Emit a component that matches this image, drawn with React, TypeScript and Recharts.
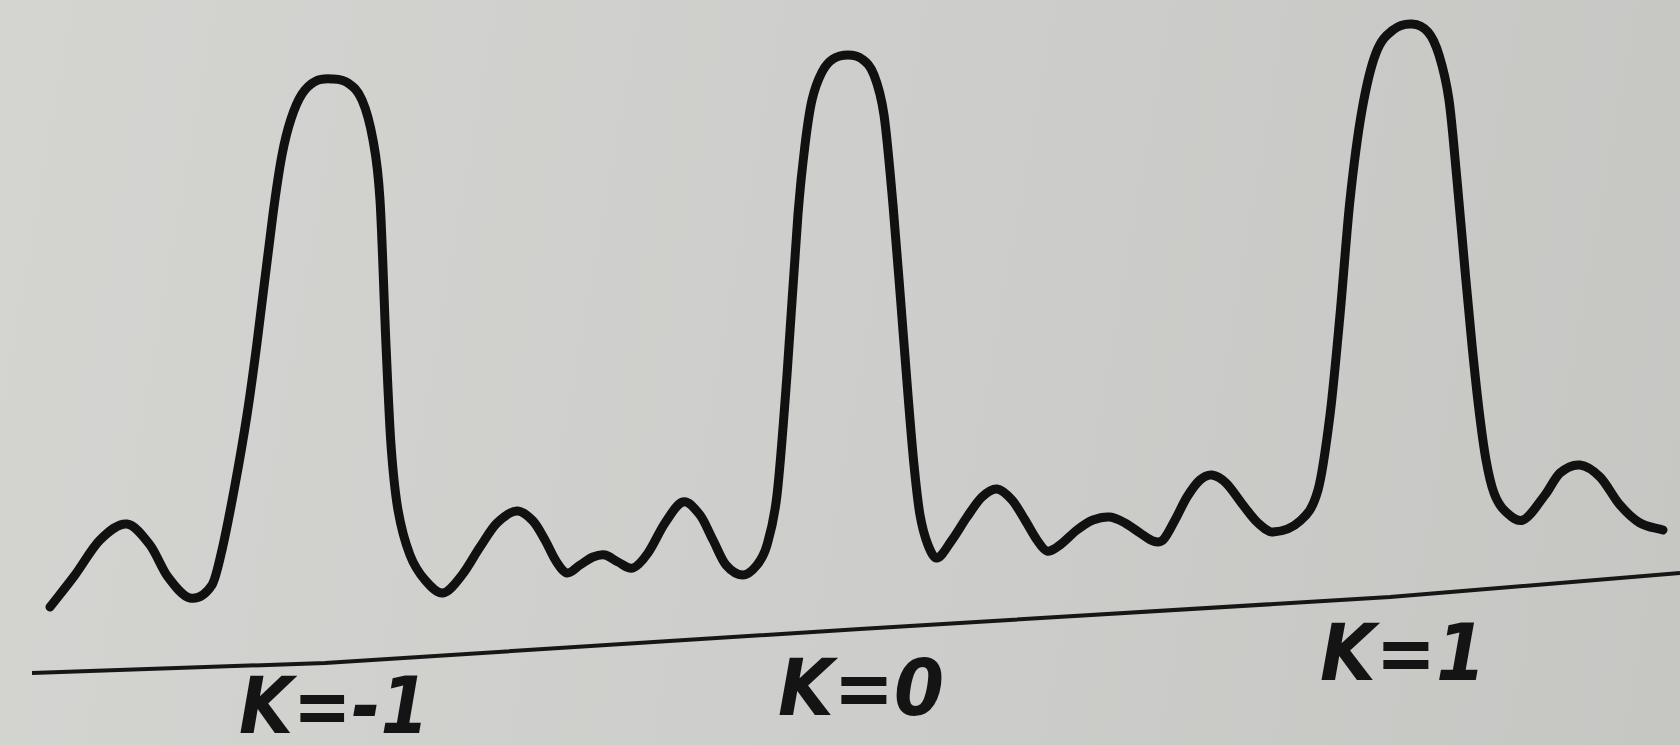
import { Line, LineChart, ReferenceDot, XAxis, YAxis } from "recharts";

// trace of the drawn curve (x along the strip, y height above the bottom edge)
const curveX = [
  50, 75, 100, 127, 150, 168, 190, 212, 222, 235, 247, 257, 273, 282, 291, 302, 316, 332, 348, 362, 373, 380,
  386, 391, 398, 410, 425, 443,
  462, 480, 497, 517, 533, 545, 556, 567, 580, 593, 605, 618, 633, 648, 665, 683, 700, 713, 726, 743,
  757, 767, 777, 787, 798, 805, 812, 822, 833, 848, 862, 874, 884, 893, 901, 908, 914, 920, 928, 937,
  952, 967, 982, 997, 1012, 1025, 1037, 1047, 1060, 1077, 1093, 1110, 1125, 1140, 1153, 1163,
  1175, 1187, 1200, 1212, 1226, 1243, 1258, 1273, 1300,
  1318, 1330, 1340, 1350, 1362, 1376, 1393, 1412, 1428, 1439, 1449, 1457, 1465, 1472, 1479, 1486, 1494, 1505, 1523,
  1545, 1560, 1580, 1600, 1620, 1640, 1663,
];
const curveY = [
  138, 170, 205, 221, 200, 168, 147, 160, 195, 260, 330, 402, 531, 590, 626, 651, 664, 666, 662, 645, 605, 545,
  400, 300, 235, 190, 165, 152,
  170, 198, 222, 234, 224, 205, 184, 172, 180, 188, 190, 183, 177, 192, 222, 243, 230, 205, 180, 170,
  180, 200, 250, 370, 531, 600, 645, 673, 686, 690, 686, 670, 630, 540, 440, 350, 280, 230, 200, 187,
  205, 228, 248, 256, 245, 225, 205, 194, 200, 215, 225, 228, 222, 212, 204, 205,
  225, 248, 265, 270, 262, 240, 222, 213, 224,
  255, 330, 430, 545, 635, 692, 715, 721, 713, 690, 645, 565, 475, 400, 335, 285, 252, 234, 225,
  250, 272, 280, 268, 240, 222, 215,
];

// the slanted base line
const baseX = [32, 325, 860, 1390, 1680];
const baseY = [72, 82, 116, 148, 172];

const labelText = ["K=-1", "K=0", "K=1"];
const labelX = [334, 861, 1403];
const labelY = [12, 30, 65];
const labelLen = [190, 166, 166];

const curve = curveX.map((x, i) => ({ x, y: curveY[i] }));
const base = baseX.map((x, i) => ({ x, y: baseY[i] }));

// cubic hermite through the points, slopes from the neighbouring points
const penCurve = (ctx: any) => {
  let xs: number[] = [];
  let ys: number[] = [];
  return {
    areaStart() {},
    areaEnd() {},
    lineStart() {
      xs = [];
      ys = [];
    },
    point(x: number, y: number) {
      xs.push(+x);
      ys.push(+y);
    },
    lineEnd() {
      const n = xs.length;
      if (!n) return;
      ctx.moveTo(xs[0], ys[0]);
      if (n === 1) return;
      const m: number[] = [];
      for (let i = 0; i < n; i++) {
        const a = Math.max(0, i - 1);
        const b = Math.min(n - 1, i + 1);
        m[i] = (ys[b] - ys[a]) / (xs[b] - xs[a]);
      }
      for (let i = 0; i < n - 1; i++) {
        const h = (xs[i + 1] - xs[i]) / 3;
        ctx.bezierCurveTo(xs[i] + h, ys[i] + m[i] * h, xs[i + 1] - h, ys[i + 1] - m[i + 1] * h, xs[i + 1], ys[i + 1]);
      }
    },
  };
};

export default function App() {
  return (
    <div
      style={{
        width: 1680,
        height: 745,
        background: "linear-gradient(100deg, #d4d5d1 0%, #cdcecb 55%, #c6c7c3 100%)",
      }}
    >
      <style>{"body{margin:0}"}</style>
      <LineChart width={1680} height={745} margin={{ top: 0, right: 0, bottom: 0, left: 0 }}>
        <XAxis dataKey="x" type="number" domain={[0, 1680]} hide />
        <YAxis type="number" domain={[0, 745]} hide />
        <Line
          data={base}
          dataKey="y"
          type="linear"
          stroke="#161616"
          strokeWidth={4}
          dot={false}
          activeDot={false}
          isAnimationActive={false}
        />
        <Line
          data={curve}
          dataKey="y"
          type={penCurve as any}
          stroke="#111"
          strokeWidth={9}
          strokeLinecap="round"
          strokeLinejoin="round"
          dot={false}
          activeDot={false}
          isAnimationActive={false}
        />
        {labelText.map((t, i) => (
          <ReferenceDot
            key={t}
            x={labelX[i]}
            y={labelY[i]}
            r={0}
            shape={(p: any) => (
              <text
                x={p.cx}
                y={p.cy}
                textAnchor="middle"
                textLength={labelLen[i]}
                lengthAdjust="spacingAndGlyphs"
                fontFamily="DejaVu Sans"
                fontWeight="bold"
                fontStyle="italic"
                fontSize={78}
                fill="#141414"
              >
                {t}
              </text>
            )}
          />
        ))}
      </LineChart>
    </div>
  );
}
